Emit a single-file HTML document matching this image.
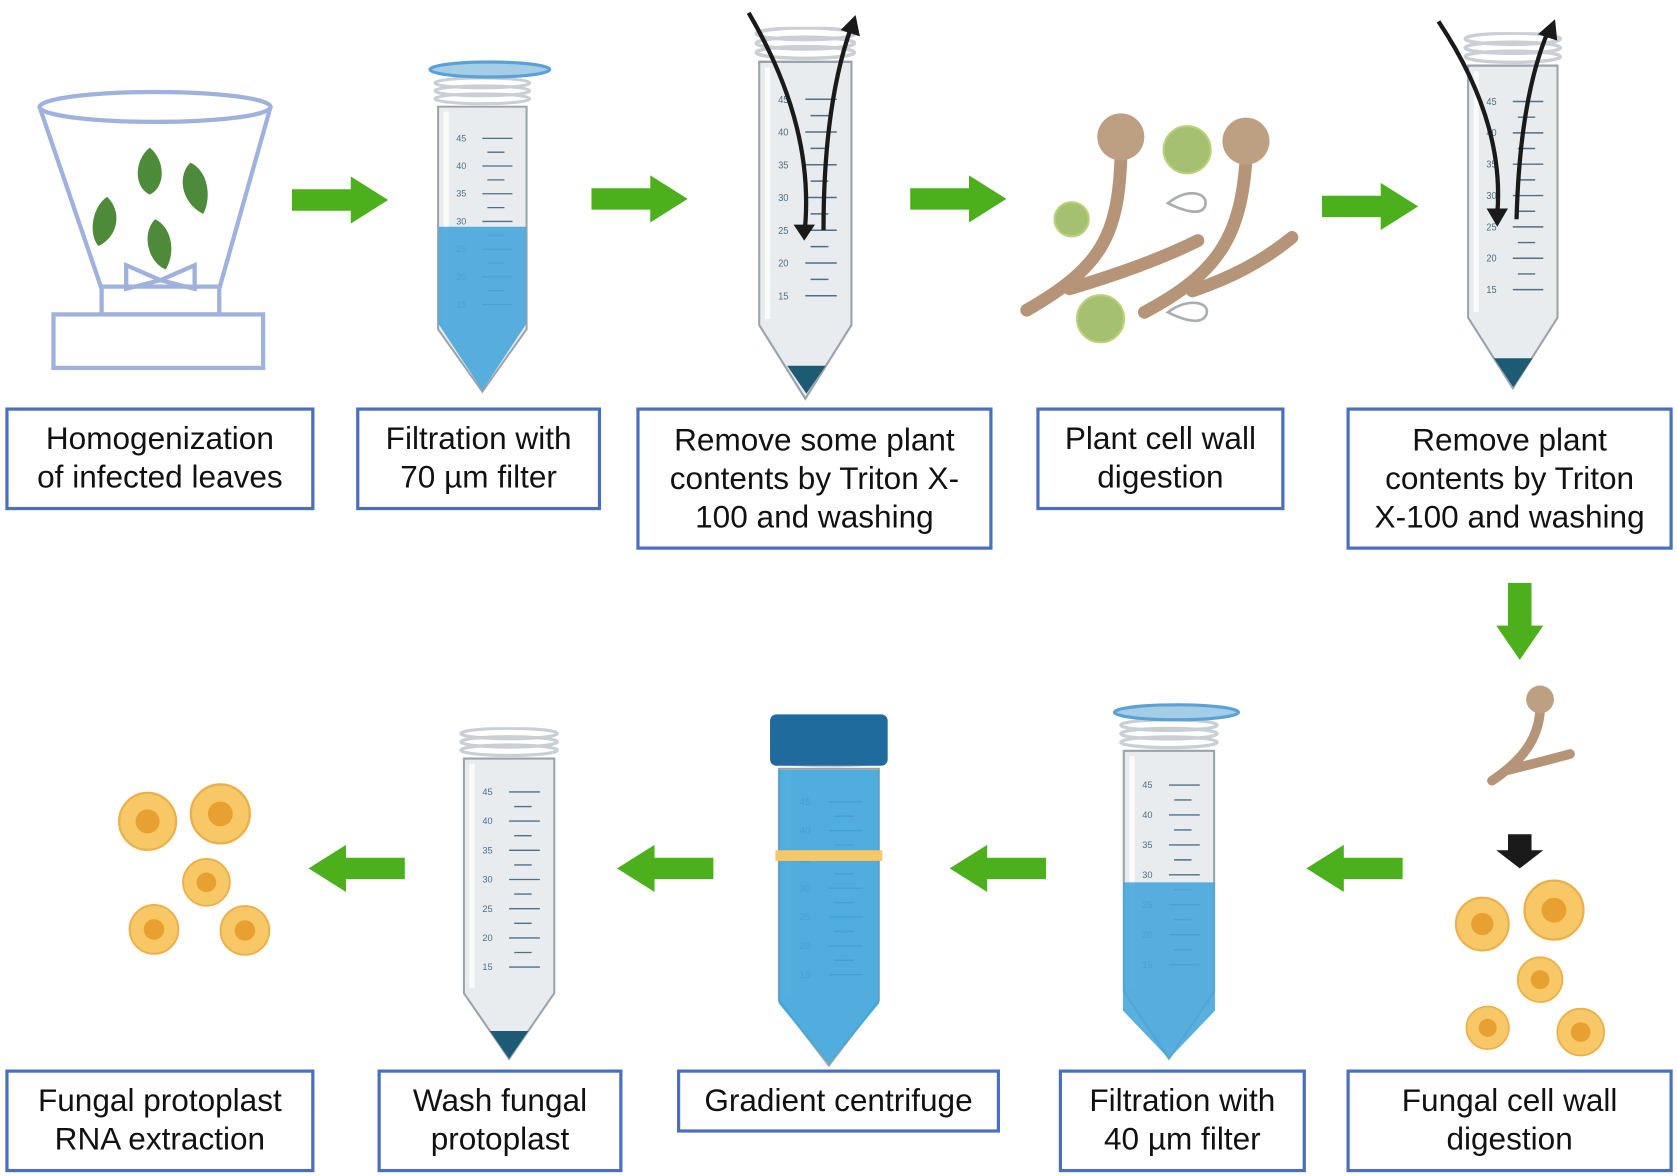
<!DOCTYPE html>
<html><head><meta charset="utf-8"><style>
html,body{margin:0;padding:0;background:#fff;width:1677px;height:1176px;overflow:hidden}
#w{position:absolute;left:0;top:0;width:1568px;height:1100px;transform:scale(1.0695);transform-origin:0 0}
.b{position:absolute;box-sizing:border-box;border:3px solid #4a6fbf;background:#fff;font-family:"Liberation Sans",Arial,sans-serif;font-size:29.5px;line-height:36px;color:#111;text-align:center;display:flex;align-items:center;justify-content:center;white-space:nowrap}
svg{position:absolute;left:0;top:0}
</style></head><body><div id="w">
<svg width="1568" height="1100" viewBox="0 0 1568 1100">
<defs>
<symbol id="tube" viewBox="0 0 100 320" preserveAspectRatio="none">
<path d="M6 30 L6 255 L50 318 L94 255 L94 30 Z" fill="#e8ecef" stroke="#9aa3aa" stroke-width="2"/>
<path d="M14 35 L14 250" stroke="#fff" stroke-width="5" opacity="0.8"/>
<g stroke="#c9cfd4" stroke-width="3" fill="none">
<ellipse cx="50" cy="6" rx="47" ry="5"/><ellipse cx="50" cy="14" rx="47" ry="5"/><ellipse cx="50" cy="22" rx="47" ry="5"/></g>
<g stroke="#4f6f86" stroke-width="1.3">
<path d="M50 62H80M55 76H72M50 90H80M55 104H72M50 118H80M55 132H72M50 146H80M55 160H72M50 174H80M55 188H72M50 202H80M55 216H72M50 230H80"/></g>
<g font-family="Liberation Sans,sans-serif" font-size="9" fill="#4f6f86">
<text x="24" y="65">45</text><text x="24" y="93">40</text><text x="24" y="121">35</text><text x="24" y="149">30</text><text x="24" y="177">25</text><text x="24" y="205">20</text><text x="24" y="233">15</text></g>
</symbol>
<symbol id="cell" viewBox="0 0 40 40"><circle cx="20" cy="20" r="19" fill="#f8c766" stroke="#eab04c" stroke-width="1.5"/><circle cx="20" cy="20" r="8" fill="#e8a030"/></symbol>
<symbol id="ga" viewBox="0 0 90 44"><path d="M0 12H55V0L90 22L55 44V32H0Z" fill="#4caf1c"/></symbol>
</defs>
<ellipse cx="145" cy="100" rx="108" ry="14" fill="none" stroke="#9fb1dd" stroke-width="4"/>
<path d="M37 100 L95 270 M253 100 L205 270" stroke="#9fb1dd" stroke-width="4"/>
<rect x="95" y="268" width="110" height="26" fill="#fff" stroke="#9fb1dd" stroke-width="4"/>
<rect x="50" y="294" width="196" height="50" fill="#fff" stroke="#9fb1dd" stroke-width="4"/>
<path d="M118 248 L150 262 L118 270Z M182 248 L150 262 L182 270Z" fill="none" stroke="#9fb1dd" stroke-width="4"/>
<g fill="#4d8a3a"><path d="M140 138 C125 150 125 175 140 182 C155 175 155 150 140 138Z"/><path d="M178 152 C165 165 170 190 190 200 C198 185 195 160 178 152Z"/><path d="M100 184 C85 195 83 220 92 230 C110 222 115 198 100 184Z"/><path d="M145 205 C132 218 138 245 155 252 C165 235 160 212 145 205Z"/></g>
<use href="#tube" x="404" y="72" width="94" height="296"/>
<path d="M410 212 H492 V303 L451 365 L410 303Z" fill="#47a6da" opacity="0.9"/>
<ellipse cx="458" cy="65" rx="56" ry="7" fill="#a4cde8" stroke="#5aa2d6" stroke-width="3"/>
<use href="#tube" x="704" y="25" width="98" height="350"/>
<path d="M736 342 H772 L754 368Z" fill="#1d5a73"/>
<use href="#tube" x="1367" y="30" width="95" height="335"/>
<path d="M1397 335 H1433 L1415 362Z" fill="#1d5a73"/>
<g fill="none" stroke="#1a1a1a" stroke-width="4">
<path d="M700 12 C740 80 760 150 752 220"/><path d="M770 215 C770 130 780 70 796 25"/>
<path d="M1345 20 C1385 80 1405 140 1400 200"/><path d="M1418 205 C1420 130 1430 70 1448 28"/></g>
<g fill="#1a1a1a"><path d="M742 210 L752 225 L762 210Z"/><path d="M786 28 L800 14 L804 34Z"/>
<path d="M1390 195 L1400 212 L1410 195Z"/><path d="M1438 32 L1454 18 L1456 38Z"/></g>
<g stroke="#b59478" stroke-width="12" fill="none" stroke-linecap="round">
<path d="M1048 150 C1045 220 1030 250 960 290"/><path d="M1000 270 C1050 255 1090 240 1120 225"/>
<path d="M1165 150 C1160 220 1140 255 1070 292"/><path d="M1115 272 C1150 260 1180 245 1208 222"/></g>
<circle cx="1048" cy="128" r="22" fill="#bd9f82"/><circle cx="1165" cy="132" r="22" fill="#bd9f82"/>
<g fill="#a5c070" stroke="#b8d17a" stroke-width="2"><circle cx="1110" cy="140" r="22"/><circle cx="1002" cy="205" r="16"/><circle cx="1029" cy="298" r="22"/></g>
<g fill="none" stroke="#a8b0ad" stroke-width="2.5"><path d="M1092 190 C1110 175 1130 180 1127 192 C1124 202 1108 198 1092 190Z"/><path d="M1092 292 C1110 278 1132 282 1128 294 C1124 304 1108 300 1092 292Z"/></g>
<use href="#ga" x="273" y="165" width="90" height="44"/>
<use href="#ga" x="553" y="164" width="90" height="44"/>
<use href="#ga" x="851" y="164" width="90" height="44"/>
<use href="#ga" x="1236" y="171" width="90" height="44"/>
<path d="M1410 545H1432V585H1443L1421 617L1399 585H1410Z" fill="#4caf1c"/>
<path d="M1440 665 C1438 690 1425 710 1395 730 M1410 720 C1430 715 1450 710 1468 705" stroke="#b59478" stroke-width="9" fill="none" stroke-linecap="round"/>
<circle cx="1440" cy="654" r="13" fill="#bd9f82"/>
<path d="M1410 780H1432V795H1443L1421 812L1399 795H1410Z" fill="#1a1a1a"/>
<use href="#cell" x="1360" y="838" width="52" height="52"/><use href="#cell" x="1424" y="822" width="58" height="58"/>
<use href="#cell" x="1418" y="894" width="44" height="44"/><use href="#cell" x="1370" y="940" width="42" height="42"/><use href="#cell" x="1455" y="942" width="46" height="46"/>
<use href="#cell" x="110" y="740" width="56" height="56"/><use href="#cell" x="177" y="732" width="58" height="58"/>
<use href="#cell" x="170" y="802" width="46" height="46"/><use href="#cell" x="120" y="845" width="48" height="48"/><use href="#cell" x="205" y="846" width="48" height="48"/>
<use href="#tube" x="428" y="680" width="96" height="312"/>
<path d="M458 964 H494 L476 990Z" fill="#1d5a73"/>
<use href="#tube" x="722" y="690" width="106" height="308"/>
<path d="M728 720 H822 V938 L775 995 L728 938Z" fill="#3fa6da" opacity="0.9"/>
<rect x="725" y="795" width="100" height="10" fill="#f8c766"/>
<rect x="720" y="668" width="110" height="48" rx="6" fill="#1f6b9e"/>
<use href="#tube" x="1045" y="672" width="96" height="320"/>
<path d="M1050 825 H1136 V945 L1093 990 L1050 945Z" fill="#47a6da" opacity="0.9"/>
<ellipse cx="1100" cy="666" rx="58" ry="7" fill="#a4cde8" stroke="#5aa2d6" stroke-width="3"/>
<g transform="translate(1568 0) scale(-1 1)">
<use href="#ga" x="1179" y="790" width="111" height="44"/>
<use href="#ga" x="891" y="790" width="110" height="44"/>
<use href="#ga" x="580" y="790" width="110" height="44"/>
<use href="#ga" x="246" y="790" width="111" height="44"/>
</g>
</svg>
<div class="b" style="left:5px;top:381px;width:289px;height:96px">Homogenization<br>of infected leaves</div>
<div class="b" style="left:333px;top:381px;width:229px;height:96px">Filtration with<br>70 µm filter</div>
<div class="b" style="left:595px;top:381px;width:333px;height:133px">Remove some plant<br>contents by Triton X-<br>100 and washing</div>
<div class="b" style="left:969px;top:381px;width:232px;height:96px">Plant cell wall<br>digestion</div>
<div class="b" style="left:1259px;top:381px;width:305px;height:133px">Remove plant<br>contents by Triton<br>X-100 and washing</div>
<div class="b" style="left:5px;top:1000px;width:289px;height:96px">Fungal protoplast<br>RNA extraction</div>
<div class="b" style="left:353px;top:1000px;width:229px;height:96px">Wash fungal<br>protoplast</div>
<div class="b" style="left:633px;top:1000px;width:302px;height:59px">Gradient centrifuge</div>
<div class="b" style="left:990px;top:1000px;width:231px;height:96px">Filtration with<br>40 µm filter</div>
<div class="b" style="left:1259px;top:1000px;width:305px;height:96px">Fungal cell wall<br>digestion</div>
</div></body></html>
